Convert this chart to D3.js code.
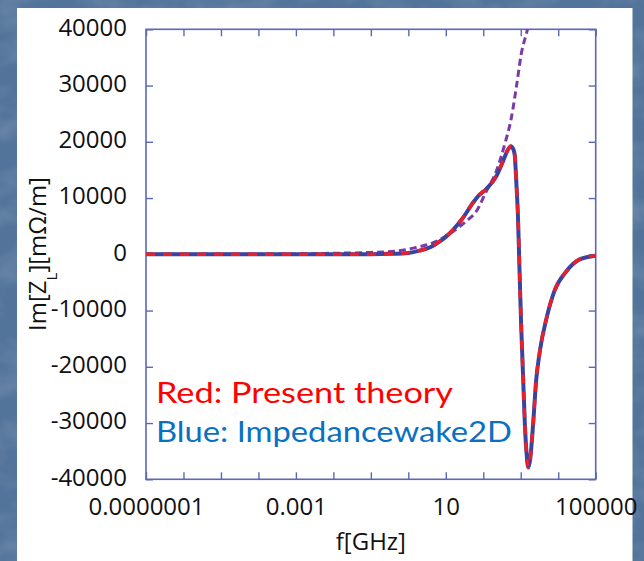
<!DOCTYPE html>
<html>
<head>
<meta charset="utf-8">
<script src="https://cdn.jsdelivr.net/npm/d3@7"></script>
<style>
  html, body { margin: 0; padding: 0; background: #56789e; }
  svg { display: block; }
</style>
</head>
<body>
<svg id="chart" width="644" height="561"></svg>
<script>
// Frequency axis (GHz, log) and impedance values Im[Z_L] (mΩ/m)
const xLabelValues = [1e-7, 1e-3, 10, 1e5];
const xTickLabels = ["0.0000001", "0.001", "10", "100000"];
const yTickValues = [-40000, -30000, -20000, -10000, 0, 10000, 20000, 30000, 40000];

// Present theory (red) / Impedancewake2D (blue): log10(f) and Im[Z_L]
const logFreqMain = [-7, -5, -3, -2, -1, -0.5, 0, 0.3, 0.6, 0.84, 1.0, 1.2, 1.46, 1.73, 1.9, 2.08, 2.35, 2.53, 2.65, 2.73, 2.8, 2.84, 2.88, 2.93, 2.97, 3.01, 3.06, 3.11, 3.16, 3.2, 3.25, 3.33, 3.41, 3.51, 3.69, 3.9, 4.22, 4.57, 5.0];
const imZMain =    [0, 0, 0, 0, 20, 80, 250, 650, 1300, 2300, 3100, 4400, 6500, 9200, 10600, 11600, 13900, 16600, 18500, 19200, 18700, 17600, 13000, 5900, -3500, -12400, -21300, -30200, -35800, -37900, -36500, -30200, -22500, -17200, -11300, -6500, -3000, -900, -250];

// Purple dashed approximation
const logFreqApprox = [-7, -4, -3, -2, -1.2, -0.3, 0.13, 0.75, 1.2, 1.55, 1.82, 2.08, 2.35, 2.57, 2.75, 2.88, 3.01, 3.19, 3.3];
const imZApprox =    [0, 30, 70, 180, 290, 600, 1100, 2300, 4100, 5900, 7700, 11200, 14800, 19500, 24300, 29600, 35500, 40300, 44000];

const legendLines = ["Red: Present theory", "Blue: Impedancewake2D"];

const svg = d3.select("#chart");
const W = 644, H = 561;
const plot = { left: 146, right: 595.7, top: 29.3, bottom: 479.3 };

// Background: mottled blue with a white panel
const defs = svg.append("defs");
const tex = defs.append("filter").attr("id", "tex").attr("x", 0).attr("y", 0).attr("width", "100%").attr("height", "100%");
tex.append("feTurbulence").attr("type", "fractalNoise").attr("baseFrequency", "0.025 0.035").attr("numOctaves", 3).attr("seed", 11).attr("result", "n");
tex.append("feColorMatrix").attr("in", "n").attr("type", "matrix")
  .attr("values", "0 0 0 0 1  0 0 0 0 1  0 0 0 0 1  1.3 0 0 0 -0.5");
svg.append("rect").attr("width", W).attr("height", H).attr("fill", "#52739a");
svg.append("rect").attr("width", W).attr("height", H).attr("fill", "#fff").attr("filter", "url(#tex)").attr("opacity", 0.2);
svg.append("rect").attr("x", 17).attr("y", 8).attr("width", 615.5).attr("height", H - 8).attr("fill", "#ffffff");

defs.append("clipPath").attr("id", "plotclip").append("rect")
  .attr("x", plot.left).attr("y", plot.top).attr("width", plot.right - plot.left).attr("height", plot.bottom - plot.top);

const x = d3.scaleLog().domain([1e-7, 1e5]).range([plot.left, plot.right]);
const y = d3.scaleLinear().domain([-40000, 40000]).range([plot.bottom, plot.top]);

const decades = d3.range(-7, 6).map(e => Math.pow(10, e));
const frameColor = "#5b68b8";
const tickLen = 7;

// Axes (ticks pointing inward on all four sides)
const fmtX = v => {
  const i = xLabelValues.findIndex(t => Math.abs(Math.log10(t) - Math.log10(v)) < 1e-6);
  return i >= 0 ? xTickLabels[i] : "";
};
const fmtY = v => String(v); // plain hyphen-minus for negatives
const gB = svg.append("g").attr("transform", `translate(0,${plot.bottom})`)
  .call(d3.axisBottom(x).tickValues(decades).tickSize(-tickLen).tickFormat(fmtX).tickPadding(13));
const gT = svg.append("g").attr("transform", `translate(0,${plot.top})`)
  .call(d3.axisTop(x).tickValues(decades).tickSize(-tickLen).tickFormat(""));
const gL = svg.append("g").attr("transform", `translate(${plot.left},0)`)
  .call(d3.axisLeft(y).tickValues(yTickValues).tickSize(-tickLen).tickFormat(fmtY).tickPadding(19));
const gR = svg.append("g").attr("transform", `translate(${plot.right},0)`)
  .call(d3.axisRight(y).tickValues(yTickValues).tickSize(-tickLen).tickFormat(""));

[gB, gT, gL, gR].forEach(g => {
  g.select(".domain").remove();
  g.selectAll(".tick line").attr("stroke", frameColor).attr("stroke-width", 1.4);
  g.selectAll("text").attr("fill", "#111").style("font-family", "'Open Sans', sans-serif").style("font-size", "24px");
});
gB.selectAll("text").attr("dy", "0.95em");
gL.selectAll("text").attr("dy", "0.24em");

svg.append("rect").attr("x", plot.left).attr("y", plot.top)
  .attr("width", plot.right - plot.left).attr("height", plot.bottom - plot.top)
  .attr("fill", "none").attr("stroke", frameColor).attr("stroke-width", 1.6);

// Curves
const line = d3.line().x(d => x(Math.pow(10, d[0]))).y(d => y(d[1])).curve(d3.curveMonotoneX);
const mainData = d3.zip(logFreqMain, imZMain);
const approxData = d3.zip(logFreqApprox, imZApprox);
const curves = svg.append("g").attr("clip-path", "url(#plotclip)");

curves.append("path").datum(approxData).attr("d", line)
  .attr("fill", "none").attr("stroke", "#7a3aa8").attr("stroke-width", 3)
  .attr("stroke-dasharray", "7,4");
curves.append("path").datum(mainData).attr("d", line)
  .attr("fill", "none").attr("stroke", "#3a44a0").attr("stroke-width", 4)
  .attr("stroke-linejoin", "round");
curves.append("path").datum(mainData).attr("d", line)
  .attr("fill", "none").attr("stroke", "#e8202a").attr("stroke-width", 3.4)
  .attr("stroke-dasharray", "9,8");

// Legend text
const legendFont = "'Comic Sans MS', Lato, sans-serif";
svg.append("text").attr("x", 156).attr("y", 402.5).text(legendLines[0])
  .attr("fill", "#ff0000").style("font-family", legendFont).style("font-size", "29px")
  .attr("textLength", 297).attr("lengthAdjust", "spacingAndGlyphs");
svg.append("text").attr("x", 156).attr("y", 441.5).text(legendLines[1])
  .attr("fill", "#0a70c0").style("font-family", legendFont).style("font-size", "29px")
  .attr("textLength", 356).attr("lengthAdjust", "spacingAndGlyphs");

// Axis titles
svg.append("text").attr("x", (plot.left + plot.right) / 2).attr("y", 550)
  .attr("text-anchor", "middle").attr("fill", "#111")
  .style("font-family", "'Open Sans', sans-serif").style("font-size", "24px")
  .text("f[GHz]");

const yTitle = svg.append("text").attr("transform", "translate(46,254) rotate(-90)")
  .attr("text-anchor", "middle").attr("fill", "#111")
  .style("font-family", "'Open Sans', sans-serif").style("font-size", "24px");
yTitle.append("tspan").text("Im[Z");
yTitle.append("tspan").attr("dy", 11).style("font-size", "15px").text("L");
yTitle.append("tspan").attr("dy", -11).text("][mΩ/m]");
</script>
</body>
</html>
